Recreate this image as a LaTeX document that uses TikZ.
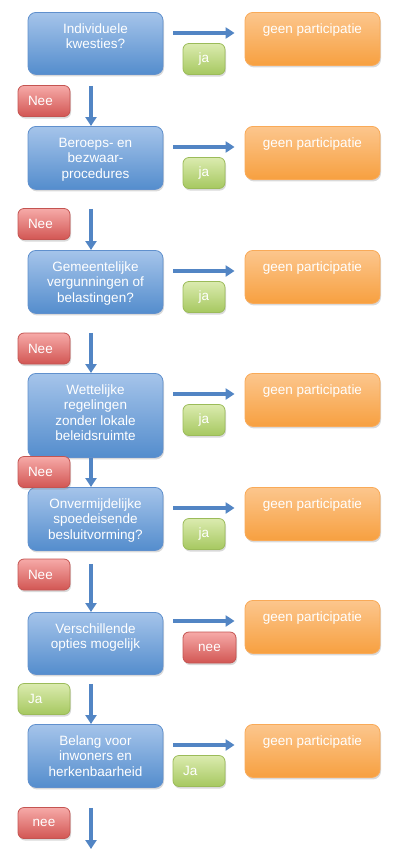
\documentclass[tikz,border=0pt]{standalone}
\usepackage{fontspec}
\setmainfont{Liberation Sans}
\usetikzlibrary{calc,shadows,arrows.meta}

% office like colours
\definecolor{qtop}{RGB}{165,196,234}
\definecolor{qbot}{RGB}{84,141,205}
\definecolor{qline}{RGB}{96,144,205}
\definecolor{otop}{RGB}{252,198,141}
\definecolor{obot}{RGB}{247,160,64}
\definecolor{oline}{RGB}{249,170,88}
\definecolor{gtop}{RGB}{219,235,175}
\definecolor{gbot}{RGB}{166,200,96}
\definecolor{gline}{RGB}{155,187,89}
\definecolor{rtop}{RGB}{246,170,168}
\definecolor{rbot}{RGB}{210,86,83}
\definecolor{rline}{RGB}{196,84,81}
\definecolor{arrowblue}{RGB}{82,133,196}

% text hanging from the top of a box
\newcommand{\qtext}[2]{\parbox[c][#1][t]{135pt}{\centering\rule{0pt}{21pt}#2}}

\tikzset{
  box/.style={inner sep=0pt, rounded corners=8pt, line width=0.8pt, text=white, anchor=north,
    drop shadow={shadow xshift=1pt, shadow yshift=-2pt, opacity=0.3}},
  question/.style={box, top color=qtop, bottom color=qbot, draw=qline},
  result/.style={box, top color=otop, bottom color=obot, draw=oline},
  tag/.style={rounded corners=6pt, line width=0.8pt, text=white, minimum height=31pt, inner xsep=0pt,
    drop shadow={shadow xshift=1pt, shadow yshift=-2pt, opacity=0.3}},
  yes/.style={tag, top color=gtop, bottom color=gbot, draw=gline},
  no/.style={tag, top color=rtop, bottom color=rbot, draw=rline},
  tagl/.style={align=left, text width=32pt, inner xsep=10pt},
  flow/.style={arrowblue, line width=3.3pt, -{Triangle[length=9pt,width=11pt]}},
}

\begin{document}
\begin{tikzpicture}[x=1pt, y=-1pt, font=\fontsize{13.5}{15.5}\selectfont]
    \useasboundingbox (0,0) rectangle (400,855);

    % questions
    \node [question] (q1) at (95.5,12) {\qtext{62pt}{Individuele\\kwesties?}};
    \node [question] (q2) at (95.5,126) {\qtext{63pt}{Beroeps- en\\bezwaar-\\procedures}};
    \node [question] (q3) at (95.5,250) {\qtext{63pt}{Gemeentelijke\\vergunningen of\\belastingen?}};
    \node [question] (q4) at (95.5,373) {\qtext{84pt}{Wettelijke\\regelingen\\zonder lokale\\beleidsruimte}};
    \node [question] (q5) at (95.5,487) {\qtext{63pt}{Onvermijdelijke\\spoedeisende\\besluitvorming?}};
    \node [question] (q6) at (95.5,612) {\qtext{62pt}{Verschillende\\opties mogelijk}};
    \node [question] (q7) at (95.5,724) {\qtext{63pt}{Belang voor\\inwoners en\\herkenbaarheid}};

    % outcomes
    \foreach \i/\y in {1/12, 2/126, 3/250, 4/373, 5/487, 6/600, 7/724}
      \node [result] (o\i) at (312.5,\y) {\qtext{53pt}{geen participatie}};

    % answers to the right
    \node [yes, minimum width=42pt] (r1) at (204,59) {ja};
    \node [yes, minimum width=42pt] (r2) at (204,173) {ja};
    \node [yes, minimum width=42pt] (r3) at (204,297) {ja};
    \node [yes, minimum width=42pt] (r4) at (204,420) {ja};
    \node [yes, minimum width=42pt] (r5) at (204,534) {ja};
    \node [no, minimum width=53pt] (r6) at (209.5,647.5) {nee};
    \node [yes, tagl] (r7) at (199,771) {Ja};

    % answers to the left
    \node [no, tagl] (l1) at (44,101) {Nee};
    \node [no, tagl] (l2) at (44,224) {Nee};
    \node [no, tagl] (l3) at (44,348.5) {Nee};
    \node [no, tagl] (l4) at (44,472) {Nee};
    \node [no, tagl] (l5) at (44,574.5) {Nee};
    \node [yes, tagl] (l6) at (44,699) {Ja};
    \node [no, minimum width=52pt] (l7) at (44,823) {nee};

    % arrows
    \foreach \i in {1,...,7} {
      \coordinate (a\i) at ($(o\i.north west)+(0,21)$);
      \draw [flow, shorten <=10pt, shorten >=10pt] (q\i.east |- a\i) -- (a\i);
    }
    \foreach \a/\b/\s in {q1/q2/11, q2/q3/19, q3/q4/19, q4/q5/0, q5/q6/13, q6/q7/9}
      \draw [flow, shorten <=\s pt] ([xshift=-4.5pt]\a.south) -- ([xshift=-4.5pt]\b.north);
    \coordinate (stop) at (91,849);
    \draw [flow, shorten <=20pt] ([xshift=-4.5pt]q7.south) -- (stop);
\end{tikzpicture}
\end{document}
